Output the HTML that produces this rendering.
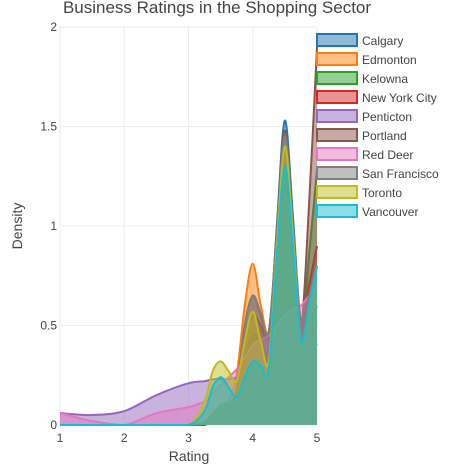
<!DOCTYPE html>
<html><head><meta charset="utf-8"><style>
body{margin:0;background:#fff;font-family:"Liberation Sans",sans-serif}
</style></head><body>
<svg id="chart" width="462" height="465" xmlns="http://www.w3.org/2000/svg" font-family="Liberation Sans, sans-serif">
<text x="217" y="13" text-anchor="middle" font-size="17" fill="#444">Business Ratings in the Shopping Sector</text>
<g id="grid"></g><g id="series"></g><g id="axes"></g><g id="legend"></g>
<text x="189" y="461" text-anchor="middle" font-size="14" fill="#444">Rating</text>
<text x="22" y="226" text-anchor="middle" font-size="14" fill="#444" transform="rotate(-90 22 226)">Density</text>
</svg>
<script>
const grid=[1,1.5,2,2.5,3,3.25,3.375,3.5,3.625,3.75,3.875,4,4.125,4.25,4.375,4.5,4.625,4.75,4.875,5];
const names=["Calgary","Edmonton","Kelowna","New York City","Penticton","Portland","Red Deer","San Francisco","Toronto","Vancouver"];
const colors=["#1f77b4","#ff7f0e","#2ca02c","#d62728","#9467bd","#8c564b","#e377c2","#7f7f7f","#bcbd22","#17becf"];
const calgary=[0,0,0,0,0,0.01,0.03,0.05,0.06,0.12,0.32,0.45,0.42,0.4,1.0,1.53,1.05,0.5,0.6,0.8];
const edmonton=[0,0,0,0,0,0.02,0.06,0.1,0.13,0.25,0.6,0.81,0.6,0.47,0.9,1.3,0.85,0.42,0.5,0.6];
const kelowna=[0,0,0,0,0,0,0.02,0.05,0.05,0.09,0.22,0.3,0.28,0.32,0.8,1.2,0.85,0.42,0.85,1.28];
const nyc=[0,0,0,0,0,0,0.03,0.06,0.08,0.15,0.42,0.55,0.5,0.45,0.95,1.4,0.95,0.5,0.7,0.9];
const penticton=[0.06,0.05,0.07,0.15,0.21,0.22,0.23,0.23,0.23,0.24,0.27,0.3,0.33,0.37,0.42,0.47,0.48,0.47,0.44,0.4];
const portland=[0,0,0,0,0,0.01,0.04,0.08,0.1,0.18,0.5,0.65,0.55,0.47,0.98,1.48,1.0,0.5,1.1,1.9];
const redDeer=[0.06,0.02,0,0.06,0.09,0.12,0.16,0.2,0.24,0.28,0.34,0.4,0.43,0.45,0.5,0.55,0.58,0.6,0.65,0.7];
const sanFrancisco=[0,0,0,0,0,0.01,0.05,0.1,0.11,0.18,0.5,0.65,0.56,0.47,0.97,1.45,1.0,0.52,0.65,0.8];
const toronto=[0,0,0,0,0,0.12,0.27,0.32,0.27,0.22,0.42,0.57,0.42,0.32,0.9,1.4,0.95,0.42,0.6,0.8];
const vancouver=[0,0,0,0,0,0.07,0.19,0.24,0.19,0.14,0.24,0.32,0.3,0.28,0.85,1.3,0.9,0.42,0.6,0.8];
const xTicks=[1,2,3,4,5];
const yTicks=[0,0.5,1,1.5,2];
const yTickLabels=["0","0.5","1","1.5","2"];
const allSeries=[calgary,edmonton,kelowna,nyc,penticton,portland,redDeer,sanFrancisco,toronto,vancouver];

const NS="http://www.w3.org/2000/svg";
const X0=60,X1=317,Y0=425,Y1=27;
const xs=v=>X0+(v-1)/4*(X1-X0);
const ys=v=>Y0-v/2*(Y0-Y1);
function mk(tag,attrs,parent){const e=document.createElementNS(NS,tag);for(const k in attrs)e.setAttribute(k,attrs[k]);parent.appendChild(e);return e;}
const gG=document.getElementById('grid'),gS=document.getElementById('series'),gA=document.getElementById('axes'),gL=document.getElementById('legend');
xTicks.forEach(t=>{
  const l=mk('line',{x1:xs(t),x2:xs(t),y1:Y1,y2:Y0,stroke:'#eee'},gG);
  
  
  const tx=mk('text',{x:xs(t),y:Y0+17,'text-anchor':'middle','font-size':12,fill:'#444'},gA);
  tx.textContent=t;
  
  
});
yTicks.forEach((t,i)=>{
  const l=mk('line',{x1:X0,x2:X1,y1:ys(t),y2:ys(t),stroke:'#eee'},gG);
  
  
  const tx=mk('text',{x:X0-3,y:ys(t)+4,'text-anchor':'end','font-size':12,fill:'#444'},gA);
  tx.textContent=yTickLabels[i];
  
  
});
function curve(vals){
  const p=grid.map((g,i)=>[xs(g),ys(vals[i])]);
  let d='M'+p[0][0]+','+p[0][1];
  for(let i=0;i<p.length-1;i++){
    const a=p[Math.max(i-1,0)],b=p[i],c=p[i+1],e=p[Math.min(i+2,p.length-1)];
    const c1x=b[0]+(c[0]-a[0])/6,c1y=Math.min(Y0,b[1]+(c[1]-a[1])/6);
    const c2x=c[0]-(e[0]-b[0])/6,c2y=Math.min(Y0,c[1]-(e[1]-b[1])/6);
    d+=` C${c1x},${c1y} ${c2x},${c2y} ${c[0]},${c[1]}`;
  }
  return d;
}
allSeries.forEach((vals,i)=>{
  const d=curve(vals);
  const f=mk('path',{d:d+` L${X1},${Y0} L${X0},${Y0} Z`,fill:colors[i],'fill-opacity':0.5,stroke:'none'},gS);
  
  
  const l=mk('path',{d:d,fill:'none',stroke:colors[i],'stroke-width':2},gS);
  
  
});
names.forEach((n,i)=>{
  const y=40+i*19;
  const g=mk('g',{},gL);
  
  
  mk('rect',{x:317,y:y-6,width:40,height:12,fill:colors[i],'fill-opacity':0.5,stroke:colors[i],'stroke-width':2},g);
  const t=mk('text',{x:362,y:y+5,'font-size':12,fill:'#444'},g);
  t.textContent=n;
});
</script>
</body></html>
